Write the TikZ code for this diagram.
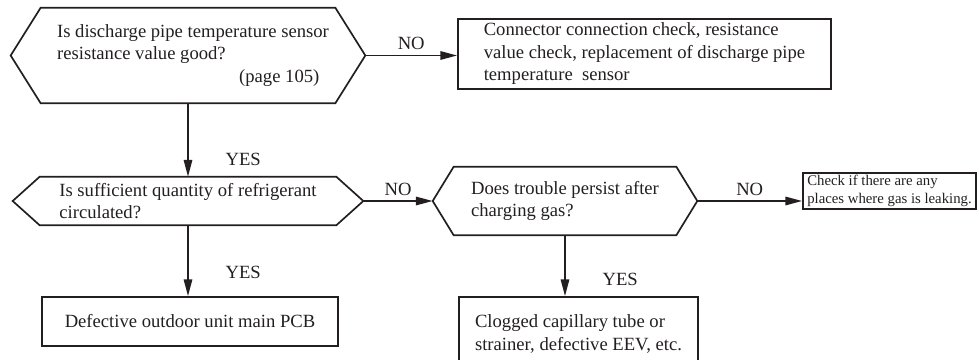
\documentclass[tikz,border=0pt]{standalone}
\usepackage{fontspec}
\setmainfont{Liberation Serif}
\usetikzlibrary{arrows.meta,positioning}
\definecolor{ink}{RGB}{35,31,32}
\tikzset{
  >={Triangle[length=4.2mm,width=2.1mm]},
  query/.style={inner sep=2pt,align=left,text=ink,
    font=\fontsize{13.25}{16}\selectfont},
  result/.style={draw=ink,line width=1.2pt,inner sep=2pt,align=left,text=ink,
    font=\fontsize{13.25}{16}\selectfont},
  flow/.style={->,draw=ink,line width=1.3pt},
  tag/.style={text=ink,font=\fontsize{13.25}{16}\selectfont},
}
\begin{document}
\begin{tikzpicture}[x=0.025cm,y=-0.025cm]
  \clip (0,0) rectangle (979,360);
  % questions
  \node[query,minimum width=8.85cm,minimum height=2.375cm] (q1) at (188,55.5)
    {\hspace*{0.25cm}Is discharge pipe temperature sensor\\\hspace*{0.25cm}resistance value good?\\\hspace*{4.8cm}(page 105)};
  \node[query,minimum width=8.75cm,minimum height=1.2cm] (q2) at (188,201)
    {Is sufficient quantity of refrigerant\\circulated?};
  \node[query,minimum width=6.6cm,minimum height=1.7cm] (q3) at (565,201)
    {Does trouble persist after\\charging gas?};
  \foreach \n/\d in {q1/0.75cm,q2/0.675cm,q3/0.525cm}
    \draw[ink,line width=1.2pt] (\n.west) -- ([xshift=\d]\n.north west) -- ([xshift=-\d]\n.north east)
      -- (\n.east) -- ([xshift=-\d]\n.south east) -- ([xshift=\d]\n.south west) -- cycle;
  % answers
  \node[result,minimum width=9.325cm,minimum height=1.75cm] (b1) at (644.5,54)
    {Connector connection check, resistance\\value check, replacement of discharge pipe\\temperature~ sensor};
  \node[result,minimum width=7.4cm,minimum height=1.225cm] (b3) at (190,321.5)
    {Defective outdoor unit main PCB};
  \node[result,minimum width=5.975cm,minimum height=1.85cm] (b4) at (578.5,334)
    {Clogged capillary tube or\\strainer, defective EEV, etc.};
  \node[result,minimum width=4.325cm,minimum height=0.9cm,inner sep=1pt,
    font=\fontsize{10.5}{12.5}\selectfont] (b5) at (889.5,191)
    {Check if there are any\\places where gas is leaking.};
  % connectors
  \draw[flow] (q1.east) -- (q1.east -| b1.west) node[tag,midway,above] {NO};
  \draw[flow] (q1) -- (q2) node[tag,pos=.77,right=0.8cm] {YES};
  \draw[flow] (q2) -- (q3) node[tag,midway,above] {NO};
  \draw[flow] (q2.south) -- (q2.south |- b3.north) node[tag,pos=.67,right=0.8cm] {YES};
  \draw[flow] (q3.east) -- (q3.east -| b5.west) node[tag,midway,above] {NO};
  \draw[flow] (q3.south) -- (q3.south |- b4.north) node[tag,pos=.73,right=0.8cm] {YES};
\end{tikzpicture}
\end{document}
